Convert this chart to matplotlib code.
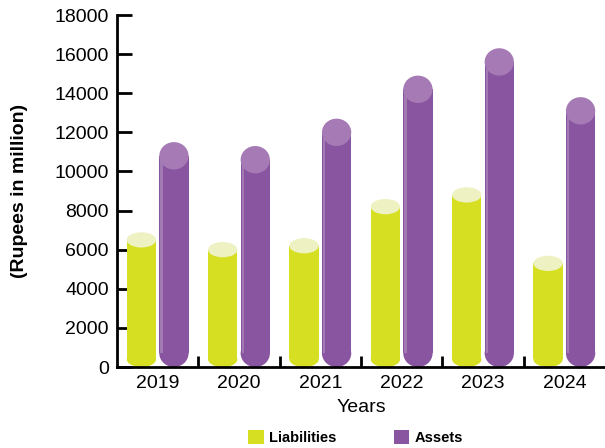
import matplotlib
matplotlib.use("Agg")
import matplotlib.pyplot as plt
from matplotlib.patches import Ellipse, Rectangle, Patch
import numpy as np

years = ["2019", "2020", "2021", "2022", "2023", "2024"]
liabilities = [6500, 6000, 6200, 8200, 8800, 5300]
assets = [10800, 10600, 12000, 14200, 15600, 13100]
yticks = [0, 2000, 4000, 6000, 8000, 10000, 12000, 14000, 16000, 18000]

plt.rcParams['font.family'] = ['Liberation Sans', 'DejaVu Sans']

fig = plt.figure(figsize=(6.05, 4.48), dpi=100)
ax = fig.add_axes([117/605, 1-367/448, 1-117/605, (367-15)/448])

bw = 0.36
off = 0.2
eh_l = 780    # liabilities cap height (data units)
eh_a = 1400   # assets cap height (data units)

lia_body, lia_top = "#D6DF22", "#EEF2C2"
ass_body, ass_top, ass_hl = "#8A55A0", "#A67AB4", "#A27AB2"

def cylinder(x, val, body, top, eh, hl=None):
    ax.add_patch(Rectangle((x - bw/2, eh/2), bw, val - eh/2, facecolor=body, edgecolor='none', zorder=2))
    ax.add_patch(Ellipse((x, eh/2), bw, eh, facecolor=body, edgecolor='none', zorder=2))
    if hl:
        ax.add_patch(Rectangle((x - bw/2 + 0.012, eh/2), 0.03, val - eh/2, facecolor=hl, edgecolor='none', zorder=2.5))
    ax.add_patch(Ellipse((x, val), bw, eh, facecolor=top, edgecolor='none', zorder=3))

xs = np.arange(len(years))
for i in xs:
    cylinder(i - off, liabilities[i], lia_body, lia_top, eh_l)
    cylinder(i + off, assets[i], ass_body, ass_top, eh_a, ass_hl)

ax.set_xlim(-0.5, len(years) - 0.5)
ax.set_ylim(0, 18000)
ax.set_yticks(yticks)
ax.set_yticklabels([str(v) for v in yticks], fontsize=14)
ax.set_xticks(xs)
ax.set_xticklabels(years, fontsize=14)
ax.set_xticks(np.arange(0.5, len(years) - 0.5, 1), minor=True)
ax.tick_params(axis='x', which='major', length=0, pad=6)
ax.tick_params(axis='x', which='minor', direction='in', length=8, width=2)
ax.tick_params(axis='y', which='major', direction='in', length=11, width=2, pad=6)

for s in ['top', 'right']:
    ax.spines[s].set_visible(False)
for s in ['left', 'bottom']:
    ax.spines[s].set_linewidth(2)

ax.set_xlabel("Years", fontsize=14, labelpad=5)
ax.set_ylabel("(Rupees in million)", fontsize=14, fontweight='bold', labelpad=19)

handles = [Patch(facecolor=lia_body, label="Liabilities"), Patch(facecolor=ass_body, label="Assets")]
fig.legend(handles=handles, loc='center', bbox_to_anchor=(0.588, 1-437.5/448), ncol=2,
           frameon=False, handlelength=1.05, handleheight=1.05, columnspacing=3.9,
           handletextpad=0.4, borderpad=0, prop={'weight': 'bold', 'size': 10.5})

fig.savefig("out.png", dpi=100)
